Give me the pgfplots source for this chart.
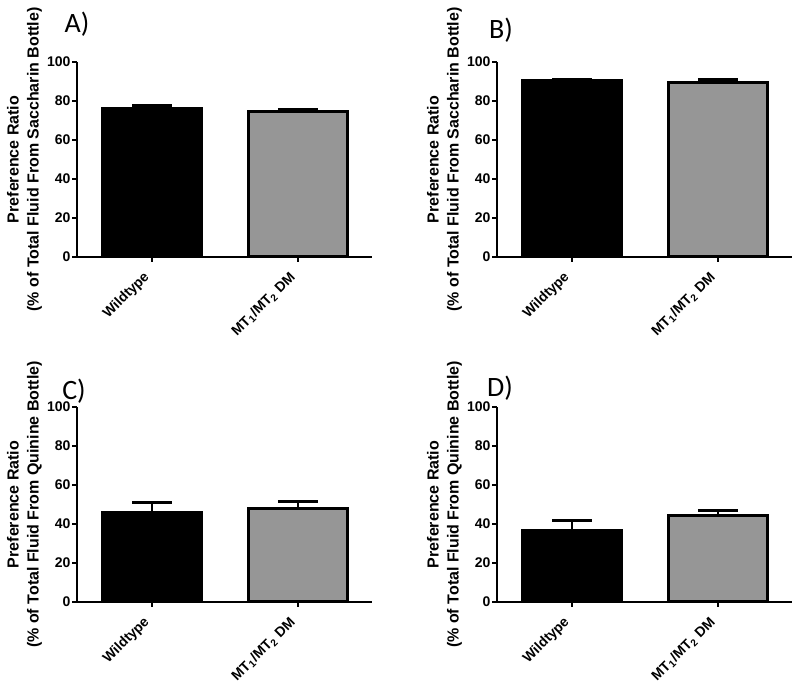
\documentclass[border=0pt]{standalone}
\usepackage{fontspec}
\setmainfont{Liberation Sans}
\newfontfamily\letterfont{Carlito}
\usepackage{pgfplots}
\pgfplotsset{compat=1.18}
\definecolor{bargray}{RGB}{150,150,150}
\pgfplotsset{panel/.style={
  scale only axis, width=147.5pt, height=97.5pt, anchor=south west,
  xmin=-0.514, xmax=1.507, ymin=0, ymax=100,
  axis x line=bottom, axis y line=left,
  axis line style={-, line width=1.2pt},
  xtick={0,1}, xticklabels={Wildtype, MT\textsubscript{1}/MT\textsubscript{2} DM},
  ytick={0,20,40,60,80,100},
  tick align=outside, major tick length=2.5pt,
  tick style={line width=1.2pt, black},
  x tick label style={yshift=-4pt, rotate=45, anchor=east, font=\bfseries\fontsize{7}{8}\selectfont},
  y tick label style={inner sep=0.6pt, font=\bfseries\fontsize{7}{8}\selectfont},
  /pgf/number format/assume math mode=true,
  every axis y label/.style={at={(axis description cs:-0.178,0.5)}, rotate=90, anchor=center,
    align=center, font=\bfseries\fontsize{8}{10}\selectfont},
  clip=false,
  bar width=0.68,
},
wt/.style={ybar, bar shift=0pt, fill=black, draw=black, line width=1.5pt,
  error bars/.cd, y dir=plus, y explicit, error mark=|,
  error bar style={line width=1.3pt, black},
  error mark options={mark size=10pt, line width=1.3pt, black}},
dm/.style={ybar, bar shift=0pt, fill=bargray, draw=black, line width=1.5pt,
  error bars/.cd, y dir=plus, y explicit, error mark=|,
  error bar style={line width=1.3pt, black},
  error mark options={mark size=10pt, line width=1.3pt, black}},
}
\begin{document}
\begin{tikzpicture}
\useasboundingbox (0pt,0pt) rectangle (400pt,344.5pt);
% A
\begin{axis}[panel, at={(38.5pt,216pt)},
  ylabel={Preference Ratio\\(\% of Total Fluid From Saccharin Bottle)}]
\addplot[wt] coordinates {(0,75.9) +- (0,1.9)};
\addplot[dm] coordinates {(1,74.5) +- (0,1.4)};
\end{axis}
% B
\begin{axis}[panel, at={(248.5pt,216pt)},
  ylabel={Preference Ratio\\(\% of Total Fluid From Saccharin Bottle)}]
\addplot[wt] coordinates {(0,90.4) +- (0,0.8)};
\addplot[dm] coordinates {(1,89.7) +- (0,1.4)};
\end{axis}
% C
\begin{axis}[panel, at={(38.5pt,43.5pt)},
  ylabel={Preference Ratio\\(\% of Total Fluid From Quinine Bottle)}]
\addplot[wt] coordinates {(0,45.8) +- (0,5.1)};
\addplot[dm] coordinates {(1,47.7) +- (0,3.9)};
\end{axis}
% D
\begin{axis}[panel, at={(248.5pt,43.5pt)},
  ylabel={Preference Ratio\\(\% of Total Fluid From Quinine Bottle)}]
\addplot[wt] coordinates {(0,36.6) +- (0,5.1)};
\addplot[dm] coordinates {(1,44.3) +- (0,2.6)};
\end{axis}
\node[font=\letterfont\fontsize{14}{16}\selectfont] at (38.5pt,332.5pt) {A)};
\node[font=\letterfont\fontsize{14}{16}\selectfont] at (250.5pt,329.5pt) {B)};
\node[font=\letterfont\fontsize{14}{16}\selectfont] at (37pt,149pt) {C)};
\node[font=\letterfont\fontsize{14}{16}\selectfont] at (250pt,150.5pt) {D)};
\end{tikzpicture}
\end{document}
